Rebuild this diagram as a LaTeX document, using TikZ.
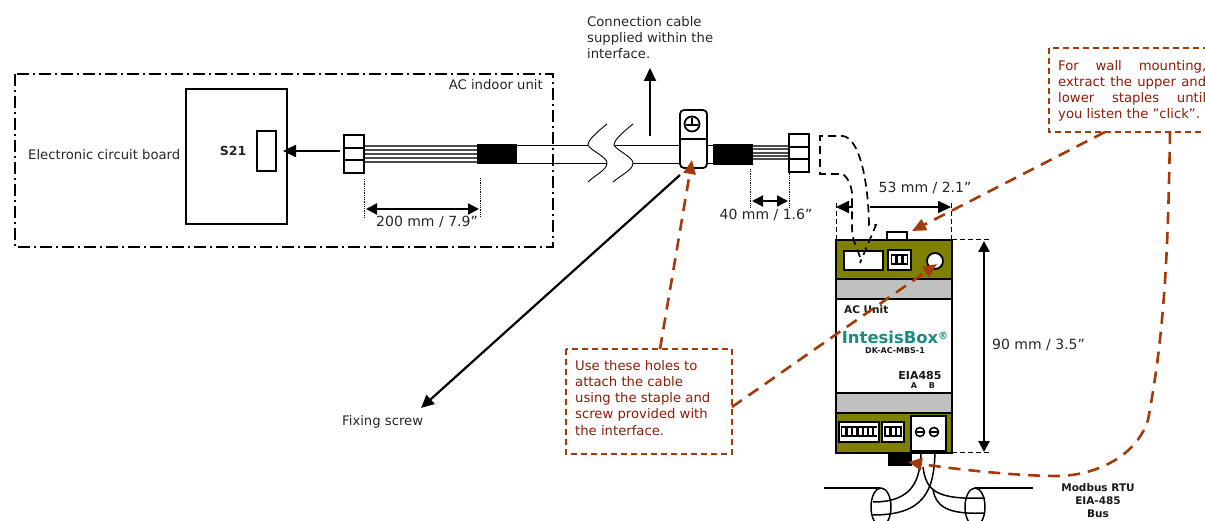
\documentclass[tikz,border=0pt]{standalone}
\usepackage{fontspec}
\setmainfont{DejaVu Sans}
\usetikzlibrary{arrows.meta,positioning}
\definecolor{olivebox}{HTML}{808000}
\definecolor{graybox}{HTML}{C0C0C0}
\definecolor{notered}{HTML}{A33A08}
\definecolor{notetext}{HTML}{8E1C08}
\definecolor{logoteal}{HTML}{1A8C80}
\tikzset{
  txt/.style={font=\fontsize{13.2}{16.2}\selectfont,text=black!85,inner sep=0pt},
  dimtxt/.style={font=\fontsize{14}{16.2}\selectfont,text=black!85,inner sep=0pt},
  dimarrow/.style={line width=2.2pt,{Triangle[length=11pt,width=11pt]}-{Triangle[length=11pt,width=11pt]}},
  bigarrow/.style={line width=2.2pt,-{Triangle[length=13pt,width=12pt]}},
  guide/.style={densely dotted,line width=0.8pt},
  dashguide/.style={dash pattern=on 5pt off 3pt,line width=1pt},
  notebox/.style={draw=notered,dash pattern=on 6pt off 4pt,line width=1.4pt},
  notetxt/.style={font=\fontsize{13.2}{16.2}\selectfont,text=notetext,inner sep=0pt,anchor=north west},
  notearrow/.style={draw=notered,line width=2.6pt,dash pattern=on 12pt off 8pt,-{Triangle[length=14pt,width=12pt]}},
  boldtxt/.style={font=\bfseries\fontsize{10.5}{13}\selectfont,text=black!90,inner sep=0pt}
}
\begin{document}
\begin{tikzpicture}[x=1pt,y=-1pt]
\useasboundingbox (0,0) rectangle (1205,521);
% AC indoor unit
\draw[dash pattern=on 12pt off 4pt on 2pt off 4pt,line width=1.5pt] (15,74) rectangle (553,247);
\node[txt,anchor=east] (unitlabel) at (543,85) {AC indoor unit};
% circuit board
\node[txt,anchor=west] (boardlabel) at (28,155) {Electronic circuit board};
\draw[line width=1.5pt] (186,89) rectangle (287,224);
\node[txt,font=\bfseries\fontsize{12.5}{14}\selectfont] (s21) at (233,151) {S21};
\draw[line width=1.5pt] (257,131) rectangle (276,171);
\coordinate (socket) at (283,151);
\coordinate (plugleft) at (340,151);
\draw[bigarrow] (plugleft) -- (socket);
% left connector and wires
\foreach \y in {146,150,154,158,162} {
    \draw[line width=1.2pt,black!70] (364,\y) -- (477,\y);
}
\draw[line width=1.8pt] (344,135) rectangle (364,173);
\draw[line width=1.8pt] (344,148) -- (364,148);
\draw[line width=1.8pt] (344,160) -- (364,160);
\fill (477,144) rectangle (517,164);
% cable with break
\draw[line width=0.9pt] (517,145) -- (588,145);
\draw[line width=0.9pt] (517,163) -- (607,163);
\draw[line width=0.9pt] (614,145) -- (680,145);
\draw[line width=0.9pt] (633,163) -- (680,163);
\draw[line width=0.9pt] (607,124) .. controls (597,132) and (588,140) .. (588,145) .. controls (590,150) and (607,157) .. (607,163) .. controls (607,170) and (595,175) .. (588,182);
\draw[line width=0.9pt] (633,124) .. controls (623,132) and (614,140) .. (614,145) .. controls (616,150) and (633,157) .. (633,163) .. controls (633,170) and (621,175) .. (613,182);
% clamp
\draw[line width=0.9pt] (707,145) -- (713,145);
\draw[line width=0.9pt] (707,163) -- (713,163);
\draw[line width=1.8pt,rounded corners=4pt,fill=white] (680,110) rectangle (707,168);
\draw[line width=1.2pt] (680,139) -- (707,139);
\draw[line width=1.8pt] (692,124) circle (7.5pt);
\draw[line width=1.4pt] (686,125) -- (698,125);
\draw[line width=1.4pt] (692,118) -- (692,125);
% right connector and wires
\fill (713,144) rectangle (753,165);
\foreach \y in {146,149,153,156,159} {
    \draw[line width=1.1pt,black!70] (753,\y) -- (789,\y);
}
\draw[line width=1.8pt] (789,134) rectangle (809,172);
\draw[line width=1.8pt] (789,147) -- (809,147);
\draw[line width=1.8pt] (789,159) -- (809,159);
% cable dimensions
\draw[guide] (364,179) -- (364,217);
\draw[guide] (480,178) -- (480,217);
\coordinate (lena) at (366,209);
\coordinate (lenb) at (479,209);
\draw[dimarrow] (lena) -- (lenb);
\node[dimtxt] (lenlabel) at (427,222) {200 mm / 7.9”};
\draw[guide] (750,169) -- (750,207);
\draw[guide] (789,169) -- (789,207);
\coordinate (stripa) at (752,201);
\coordinate (stripb) at (788,201);
\draw[dimarrow] (stripa) -- (stripb);
\node[dimtxt] (striplabel) at (766,215) {40 mm / 1.6”};
% cable note and screw
\node[txt,anchor=north west,align=left] (cablelabel) at (587,16) {Connection cable\\supplied within the\\interface.};
\coordinate (cableup) at (650,136);
\coordinate (cabletop) at (650,68);
\draw[bigarrow] (cableup) -- (cabletop);
\coordinate (screwa) at (680,175);
\coordinate (screwb) at (421,408);
\draw[bigarrow] (screwa) -- (screwb);
\node[txt,anchor=west] (screwlabel) at (342,422) {Fixing screw};
% device body
\draw[line width=2pt,fill=white] (836,240) rectangle (952,453);
\filldraw[fill=olivebox,line width=2pt] (836,240) rectangle (952,279);
\filldraw[fill=graybox,line width=2pt] (836,279) rectangle (952,299);
\filldraw[fill=graybox,line width=2pt] (836,393) rectangle (952,413);
\filldraw[fill=olivebox,line width=2pt] (836,413) rectangle (952,453);
\draw[line width=1.6pt,fill=white] (887,232) rectangle (907,240);
\fill (888,453) rectangle (912,466);
% upper ports
\draw[line width=1.8pt,fill=white] (844,251) rectangle (883,270);
\draw[line width=1.8pt,fill=white] (888,250) rectangle (911,270);
\fill (891,254) rectangle (908,265);
\foreach \x in {893.5,899.5,905} {
    \fill[white] (\x-1.5,256) rectangle ++(3,7);
}
\draw[line width=1.8pt,fill=white] (935,261) circle (8pt);
% lower ports
\draw[line width=1.8pt,fill=white] (839,422) rectangle (879,442);
\fill (841,426) rectangle (877,437);
\foreach \x in {843.5,849,854.5,860,865.5,870.5,875} {
    \fill[white] (\x-1.5,428) rectangle ++(3,7);
}
\draw[line width=1.8pt,fill=white] (882,422) rectangle (904,442);
\fill (884,426) rectangle (902,437);
\foreach \x in {887,893,898.5} {
    \fill[white] (\x-1.5,428) rectangle ++(3,7);
}
\draw[line width=1.8pt,fill=white] (911,416) rectangle (946,451);
\foreach \x in {920,934} {
    \draw[line width=1.6pt] (\x,432) circle (4.5pt);
    \draw[line width=1.6pt] (\x-4,432) -- (\x+4,432);
}
% device texts
\node[boldtxt,anchor=west] (aclabel) at (844,310) {AC Unit};
\node[inner sep=0pt,text=logoteal,font=\bfseries\fontsize{16.4}{18}\selectfont] (logo) at (895,337) {IntesisBox\raisebox{4pt}{\fontsize{10}{10}\selectfont ®}};
\node[boldtxt,font=\bfseries\fontsize{8}{9}\selectfont] (model) at (895,351) {DK-AC-MBS-1};
\node[boldtxt,font=\bfseries\fontsize{11}{13}\selectfont] (eia) at (920,375) {EIA485};
\node[boldtxt,font=\bfseries\fontsize{8}{9}\selectfont] (porta) at (914,386) {A};
\node[boldtxt,font=\bfseries\fontsize{8}{9}\selectfont] (portb) at (932,386) {B};
% device dimensions
\draw[dashguide] (836,240) -- (836,200);
\draw[dashguide] (951,240) -- (951,200);
\draw[dashguide] (952,240) -- (990,240);
\draw[dashguide] (952,452) -- (990,452);
\coordinate (widtha) at (853,207);
\coordinate (widthb) at (836,207);
\coordinate (widthc) at (870,207);
\coordinate (widthd) at (951,207);
\draw[bigarrow] (widtha) -- (widthb);
\draw[bigarrow] (widthc) -- (widthd);
\node[dimtxt] (widthlabel) at (925,188) {53 mm / 2.1”};
\coordinate (heighta) at (984,241);
\coordinate (heightb) at (984,452);
\draw[dimarrow] (heighta) -- (heightb);
\node[dimtxt,anchor=west] (heightlabel) at (992,345) {90 mm / 3.5”};
% dashed plug
\draw[dash pattern=on 8pt off 5pt,line width=1.7pt] (860,257) .. controls (856,245) and (852,240) .. (852,227) -- (852,193) .. controls (851,185) and (848,178) .. (843,174) -- (820,174) -- (820,136) -- (843,136) .. controls (858,138) and (868,175) .. (869,225) -- (876,225) -- (860,263);
% bus
\draw[line width=1.5pt] (824,488) -- (880,488);
\draw[line width=1.5pt] (975,488) -- (1033,488);
\draw[line width=1.5pt] (881,507) ellipse (10pt and 19pt);
\draw[line width=1.5pt] (975,507) ellipse (10pt and 19pt);
\draw[line width=1.5pt] (921,453) .. controls (920,480) and (913,502) .. (873,502);
\draw[line width=1.5pt] (935,452) .. controls (934,490) and (925,515) .. (873,515);
\draw[line width=1.5pt] (923,467) .. controls (926,490) and (935,500) .. (985,498);
\draw[line width=1.5pt] (933,490) .. controls (936,505) and (945,515) .. (985,513);
\node[boldtxt,font=\bfseries\fontsize{10.5}{13}\selectfont,align=center] (buslabel) at (1098,501) {Modbus RTU\\EIA-485\\Bus};
% notes
\draw[notebox,fill=white] (566,349) rectangle (732,454);
\node[notetxt,align=left] (holesnote) at (575,360) {Use these holes to\\attach the cable\\using the staple and\\screw provided with\\the interface.};
\draw[notebox,fill=white] (1049,48) rectangle (1215,132);
\node[notetxt,text width=148pt,align=justify] (wallnote) at (1058,60) {For wall mounting,\linebreak extract the upper and\linebreak lower staples until\linebreak you listen the \char34 click\char34 .};
\coordinate (holesa) at (660,349);
\coordinate (holesb) at (692,160);
\coordinate (holesc) at (732,407);
\coordinate (holesd) at (937,264);
\coordinate (walla) at (1105,132);
\coordinate (wallb) at (912,231);
\coordinate (wallc) at (1170,132);
\coordinate (walld) at (908,462);
\draw[notearrow] (holesa) -- (holesb);
\draw[notearrow] (holesc) -- (holesd);
\draw[notearrow] (walla) -- (wallb);
\draw[notearrow] (wallc) .. controls (1168,250) and (1165,330) .. (1148,420) .. controls (1135,460) and (1090,476) .. (1057,476) .. controls (1020,476) and (960,470) .. (walld);
\end{tikzpicture}
\end{document}
